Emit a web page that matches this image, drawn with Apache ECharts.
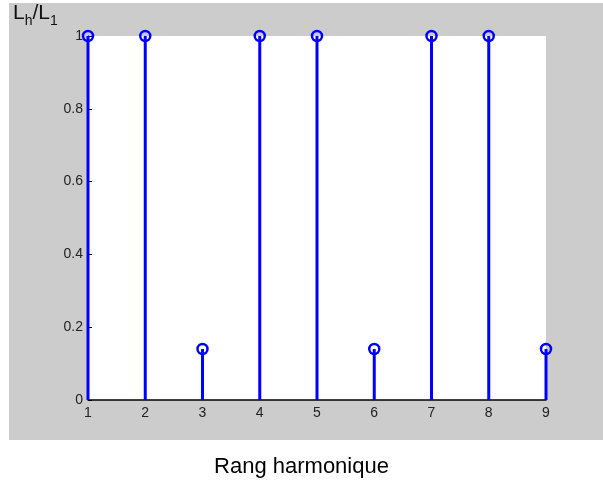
<!DOCTYPE html>
<html>
<head>
<meta charset="utf-8">
<script src="https://cdn.jsdelivr.net/npm/echarts@6/dist/echarts.min.js"></script>
<style>html,body{margin:0;padding:0;background:#fff;}#c{width:603px;height:482px;}</style>
</head>
<body>
<div id="c"></div>
<script>
var harmonics = [1, 2, 3, 4, 5, 6, 7, 8, 9];
var ratios = [1, 1, 0.14, 1, 1, 0.14, 1, 1, 0.14];
var yTicks = [0, 0.2, 0.4, 0.6, 0.8, 1];
var xLabel = 'Rang harmonique';

var pts = harmonics.map(function (h, i) { return [h, ratios[i]]; });
var blue = '#0000ff';
var chart = echarts.init(document.getElementById('c'), null, {renderer: 'canvas'});
var font = 'Arial, "Liberation Sans", sans-serif';
chart.setOption({
  backgroundColor: '#ffffff',
  animation: false,
  graphic: [
    {type: 'rect', z: -10, shape: {x: 9, y: 3, width: 594, height: 437}, style: {fill: '#cccccc'}},
    {type: 'rect', z: -9, shape: {x: 88, y: 36, width: 458, height: 364}, style: {fill: '#ffffff'}},
    {type: 'text', left: 13, top: 3, style: {
      text: '{m|L}{s|h}{m|/L}{s|1}',
      rich: {
        m: {fontSize: 21, fontFamily: font, fill: '#111', verticalAlign: 'bottom', lineHeight: 23},
        s: {fontSize: 14, fontFamily: font, fill: '#111', verticalAlign: 'bottom', lineHeight: 23, padding: [0, 0, -4, 0]}
      }
    }},
    {type: 'text', left: 'center', top: 456, style: {text: xLabel, fontSize: 22, fontFamily: font, fill: '#000'}}
  ],
  grid: {left: 88, right: 57, top: 36, bottom: 82, containLabel: false},
  xAxis: {
    type: 'value', min: 1, max: 9, interval: 1,
    axisLine: {show: true, lineStyle: {color: '#000', width: 1.5}},
    axisTick: {show: true, inside: true, length: 4, lineStyle: {color: '#000'}},
    axisLabel: {fontSize: 14, fontFamily: font, color: '#222', margin: 6},
    splitLine: {show: false}
  },
  yAxis: {
    type: 'value', min: 0, max: 1, interval: 0.2,
    axisLine: {show: true, lineStyle: {color: '#000', width: 1}},
    axisTick: {show: true, inside: true, length: 4, lineStyle: {color: '#000'}},
    axisLabel: {fontSize: 14, fontFamily: font, color: '#222', margin: 5,
      formatter: function (v) { return String(Math.round(v * 10) / 10); }},
    splitLine: {show: false}
  },
  series: [
    {
      type: 'custom',
      z: 3,
      data: pts,
      clip: false,
      renderItem: function (params, api) {
        var p0 = api.coord([api.value(0), 0]);
        var p1 = api.coord([api.value(0), api.value(1)]);
        return {type: 'line', shape: {x1: p0[0], y1: p0[1], x2: p1[0], y2: p1[1]},
          style: {stroke: blue, lineWidth: 3}};
      }
    },
    {
      type: 'scatter',
      z: 4,
      data: pts,
      symbol: 'circle',
      symbolSize: 10,
      clip: false,
      itemStyle: {color: 'rgba(0,0,0,0)', borderColor: blue, borderWidth: 2.5, opacity: 1}
    }
  ]
});
</script>
</body>
</html>
